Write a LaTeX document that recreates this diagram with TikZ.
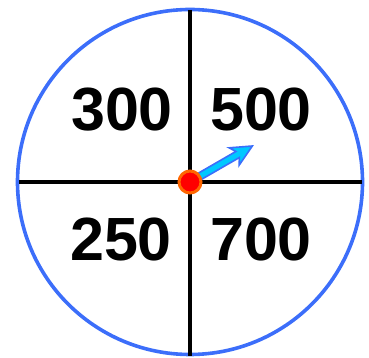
\documentclass[tikz,border=0pt]{standalone}
\usepackage{fontspec}
\setmainfont{Liberation Sans}
\definecolor{rimblue}{RGB}{60,110,250}
\definecolor{arrcyan}{RGB}{0,200,255}
\definecolor{pivred}{RGB}{255,0,0}
\definecolor{pivorange}{RGB}{255,102,0}
\tikzset{
  rim/.style={draw=rimblue,line width=3.6pt},
  divider/.style={draw=black,line width=3.6pt},
  prize/.style={font=\bfseries\fontsize{61}{61}\selectfont,text=black,inner sep=0pt},
  pointer/.style={fill=arrcyan,draw=rimblue,line width=1.6pt,line join=miter},
  pivot/.style={circle,fill=pivred,draw=pivorange,line width=3pt,minimum size=22pt,inner sep=0pt}
}
\begin{document}
\begin{tikzpicture}[x=1pt,y=1pt]
\useasboundingbox (0,0) rectangle (369,358);
\coordinate (c) at (190,176);
\draw[rim] (c) circle (172.5);
\coordinate (top) at (190,348);
\coordinate (bot) at (190,2);
\coordinate (lft) at (19,176);
\coordinate (rgt) at (362,176);
\draw[divider] (top) -- (bot);
\draw[divider] (lft) -- (rgt);
\node[prize] (n300) at (122,248.5) {300};
\node[prize] (n500) at (261,248.5) {500};
\node[prize] (n250) at (121,118) {250};
\node[prize] (n700) at (261,118) {700};
\begin{scope}[shift={(c)},rotate=30]
\draw[pointer] (0,-3.5) -- (55,-3.5) -- (51,-10) -- (72,0) -- (51,10) -- (55,3.5) -- (0,3.5) -- cycle;
\end{scope}
\node[pivot] (piv) at (c) {};
\end{tikzpicture}
\end{document}
